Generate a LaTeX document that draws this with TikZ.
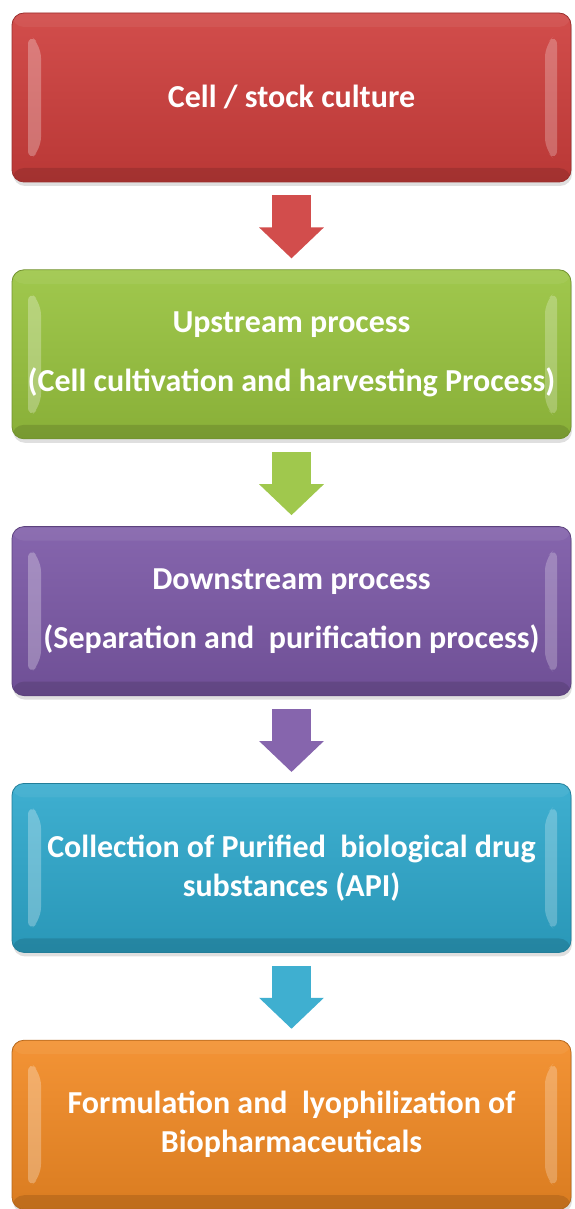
\documentclass[tikz,border=0pt]{standalone}
\usepackage{fontspec}
\setmainfont{Carlito}
\usetikzlibrary{arrows.meta, positioning, shadows}
\definecolor{cultred}{RGB}{206, 62, 60}
\definecolor{upgreen}{RGB}{152, 195, 62}
\definecolor{downpurple}{RGB}{123, 88, 166}
\definecolor{apiblue}{RGB}{46, 168, 204}
\definecolor{formorange}{RGB}{242, 138, 36}

% bevelled edges of a stage box, drawn inside its outline
\newcommand{\bevelfaces}{%
  \fill[white, opacity=0.28] ([shift={(16pt,-20pt)}]path picture bounding box.north west)
    -- ([shift={(29pt,-33pt)}]path picture bounding box.north west)
    -- ([shift={(29pt,33pt)}]path picture bounding box.south west)
    -- ([shift={(16pt,20pt)}]path picture bounding box.south west) -- cycle;
  \fill[white, opacity=0.24] ([shift={(-14pt,-20pt)}]path picture bounding box.north east)
    -- ([shift={(-26pt,-32pt)}]path picture bounding box.north east)
    -- ([shift={(-26pt,32pt)}]path picture bounding box.south east)
    -- ([shift={(-14pt,20pt)}]path picture bounding box.south east) -- cycle;
  \fill[white, opacity=0.06] (path picture bounding box.north west) rectangle ([yshift=-14pt]path picture bounding box.north east);
  \fill[black, opacity=0.12] (path picture bounding box.south west) rectangle ([yshift=14pt]path picture bounding box.south east);
}

\begin{document}
\begin{tikzpicture}[
    stage/.style={rectangle, rounded corners=12pt, minimum width=559pt, minimum height=169pt, inner sep=0pt, align=center, text=white, font=\bfseries\fontsize{32}{39}\selectfont, draw=#1!75!black, line width=0.8pt, top color=#1!92!white, bottom color=#1!90!black, drop shadow={shadow xshift=1pt, shadow yshift=-4pt, opacity=0.25}, path picture={\bevelfaces}},
    flow/.style={draw=#1!92!white, line width=39pt, -{Triangle[length=31pt, width=63pt]}}
]
\useasboundingbox (0,0) rectangle (574pt,-1209pt);

% Process stages
\node[stage=cultred] (culture) at (291.5pt,-97.5pt) {Cell / stock culture};
\node[stage=upgreen, below=87pt of culture] (upstream) {Upstream process\\[20pt](Cell cultivation and harvesting Process)};
\node[stage=downpurple, below=87pt of upstream] (downstream) {Downstream process\\[20pt](Separation and\ \ purification process)};
\node[stage=apiblue, below=87pt of downstream] (api) {Collection of Purified\ \ biological drug\\substances (API)};
\node[stage=formorange, below=87pt of api] (formulation) {Formulation and\ \ lyophilization of\\Biopharmaceuticals};

% Block arrows between stages
\draw[flow=cultred] ([yshift=-13pt]culture.south) -- ([yshift=11pt]upstream.north);
\draw[flow=upgreen] ([yshift=-13pt]upstream.south) -- ([yshift=11pt]downstream.north);
\draw[flow=downpurple] ([yshift=-13pt]downstream.south) -- ([yshift=11pt]api.north);
\draw[flow=apiblue] ([yshift=-13pt]api.south) -- ([yshift=11pt]formulation.north);
\end{tikzpicture}
\end{document}
